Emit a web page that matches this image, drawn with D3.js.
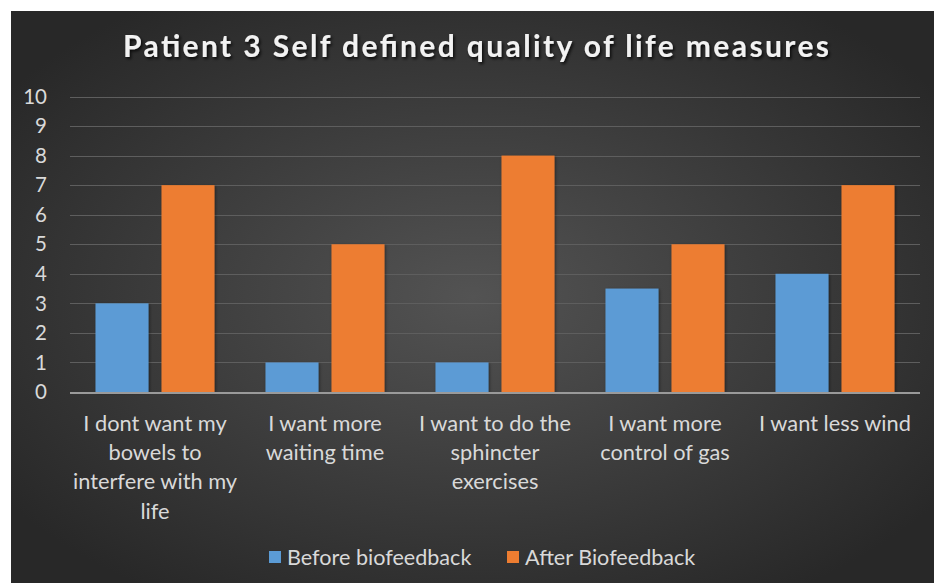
<!DOCTYPE html>
<html><head><meta charset="utf-8">
<script src="https://cdn.jsdelivr.net/npm/d3@7"></script>
<style>body{margin:0;background:#fff}svg{display:block}</style>
</head><body>
<svg id="chart" width="934" height="583"></svg>
<script>
const title = "Patient 3 Self defined quality of life measures";
const categories = [
  "I dont want my\nbowels to\ninterfere with my\nlife",
  "I want more\nwaiting time",
  "I want to do the\nsphincter\nexercises",
  "I want more\ncontrol of gas",
  "I want less wind"
];
const seriesNames = ["Before biofeedback", "After Biofeedback"];
const beforeValues = [3, 1, 1, 3.5, 4];
const afterValues = [7, 5, 8, 5, 7];
const seriesColors = ["#5b9bd5", "#ed7d31"];
const yTicks = [0,1,2,3,4,5,6,7,8,9,10];

const svg = d3.select("#chart");
const defs = svg.append("defs");
const rg = defs.append("radialGradient").attr("id","bg")
  .attr("cx","50%").attr("cy","50%").attr("r","62%");
rg.append("stop").attr("offset","0%").attr("stop-color","#535353");
rg.append("stop").attr("offset","100%").attr("stop-color","#282828");
const sh = defs.append("filter").attr("id","tshadow").attr("x","-5%").attr("y","-30%").attr("width","110%").attr("height","160%");
sh.append("feDropShadow").attr("dx",1.5).attr("dy",2).attr("stdDeviation",1.5).attr("flood-color","#000").attr("flood-opacity",0.8);
const bs = defs.append("filter").attr("id","bshadow").attr("x","-20%").attr("y","-10%").attr("width","140%").attr("height","120%");
bs.append("feDropShadow").attr("dx",1).attr("dy",1).attr("stdDeviation",1.5).attr("flood-color","#000").attr("flood-opacity",0.45);

svg.append("rect").attr("x",11).attr("y",11).attr("width",923).attr("height",572).attr("fill","url(#bg)");

const font = "Lato, 'Open Sans', sans-serif";
const textColor = "#d9d9d9";

svg.append("text").attr("x",476).attr("y",57).attr("text-anchor","middle")
  .attr("font-family",font).attr("font-weight","bold").attr("font-size",30)
  .attr("fill","#f2f2f2").attr("filter","url(#tshadow)")
  .attr("textLength",706).attr("lengthAdjust","spacing")
  .text(title);

const y = d3.scaleLinear().domain([0,10]).range([392,96.5]);
const x0 = d3.scaleBand().domain(categories).range([70,920]).paddingInner(0).paddingOuter(0);
const x1 = d3.scaleBand().domain(seriesNames).range([25.5,144.5]).paddingInner(13/66).paddingOuter(0);

// gridlines
svg.append("g").selectAll("line").data(yTicks.filter(d=>d>0)).join("line")
  .attr("x1",70).attr("x2",920).attr("y1",d=>Math.round(y(d))+0.5).attr("y2",d=>Math.round(y(d))+0.5)
  .attr("stroke","#5e5e5e").attr("stroke-width",1.2);

// y tick labels
svg.append("g").selectAll("text").data(yTicks).join("text")
  .attr("x",47).attr("y",d=>y(d)).attr("dy","0.35em").attr("text-anchor","end")
  .attr("font-family",font).attr("font-size",20.5).attr("fill",textColor)
  .text(d=>d);

// bars
const data = categories.map((c,i)=>({cat:c, vals:[beforeValues[i], afterValues[i]]}));
const groups = svg.append("g").selectAll("g").data(data).join("g")
  .attr("transform",d=>`translate(${x0(d.cat)},0)`);
groups.selectAll("rect").data(d=>d.vals.map((v,j)=>({s:seriesNames[j], v, j}))).join("rect")
  .attr("x",d=>x1(d.s)).attr("width",x1.bandwidth())
  .attr("y",d=>y(d.v)).attr("height",d=>y(0)-y(d.v))
  .attr("fill",d=>seriesColors[d.j]).attr("filter","url(#bshadow)");

// axis line
svg.append("line").attr("x1",70).attr("x2",920).attr("y1",393).attr("y2",393)
  .attr("stroke","#9a9a9a").attr("stroke-width",1.8);

// category labels
const cl = svg.append("g").selectAll("text").data(categories).join("text")
  .attr("text-anchor","middle").attr("font-family",font).attr("font-size",21.8).attr("fill",textColor)
  .attr("transform",d=>`translate(${x0(d)+x0.bandwidth()/2},431)`);
cl.selectAll("tspan").data(d=>d.split("\n")).join("tspan")
  .attr("x",0).attr("y",(d,i)=>i*29.2).text(d=>d);

// legend
const legendX = [269, 507];
const lg = svg.append("g").selectAll("g").data(seriesNames).join("g")
  .attr("transform",(d,i)=>`translate(${legendX[i]},557)`);
lg.append("rect").attr("x",0).attr("y",-6).attr("width",12).attr("height",12)
  .attr("fill",(d,i)=>seriesColors[i]);
lg.append("text").attr("x",18).attr("y",0).attr("dy","0.35em")
  .attr("font-family",font).attr("font-size",21.6).attr("fill",textColor).text(d=>d);
</script>
</body></html>
